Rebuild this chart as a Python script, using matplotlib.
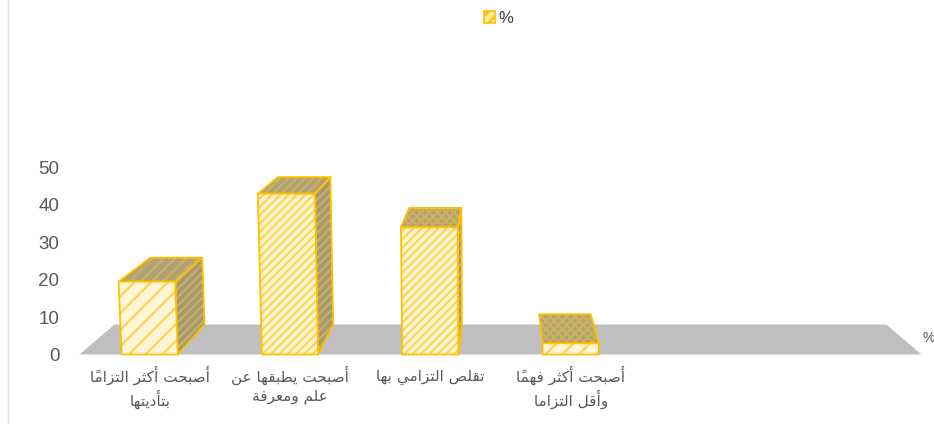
# Perspective column chart with Arabic labels, drawn on a plain 2D axes.
import matplotlib
matplotlib.use("Agg")
import matplotlib.pyplot as plt
from matplotlib.patches import Polygon, Patch

# ------------------------------------------------------------
# Data
# ------------------------------------------------------------
categories = [
    ["أصبحت أكثر التزاماً", "بتأديتها"],
    ["أصبحت يطبقها عن", "علم ومعرفة"],
    ["تقلص التزامي بها"],
    ["أصبحت أكثر فهماً", "وأقل التزاما"],
]
values = [19.5, 43, 34, 3]
y_ticks = [0, 10, 20, 30, 40, 50]
series_name = "%"
n_slots = 6  # the floor has room for two more, empty, categories

# ------------------------------------------------------------
# Style
# ------------------------------------------------------------
GOLD = "#FFC000"
TEXT = "#595959"
FLOOR = "#BFBFBF"
FRONT = "#FFF6D8"
SIDE = "#A39877"
TOP = "#AFA27A"
SHADE_HATCH = "#CDB05A"
BAR_WIDTH = 0.4
FRONT_HATCH = ["//", "////", "////", "//"]
TOP_HATCH = ["///", "////", "xxxx", "xxxx"]

# perspective: back plane shrinks towards a vanishing point
VANISH_X = 2.5        # in category units
VANISH_Y = 96.5       # in value units
BACK_SCALE = 0.917
LEAN = 0.0004         # columns spread slightly with height

# ------------------------------------------------------------
# Minimal Arabic shaping (matplotlib has no bidi or joining)
# ------------------------------------------------------------
FORMS = {
    "ا": "\ufe8d\ufe8e", "أ": "\ufe83\ufe84", "د": "\ufea9\ufeaa", "ر": "\ufead\ufeae",
    "ز": "\ufeaf\ufeb0", "و": "\ufeed\ufeee", "ة": "\ufe93\ufe94",
    "ب": "\ufe8f\ufe90\ufe91\ufe92", "ت": "\ufe95\ufe96\ufe97\ufe98",
    "ث": "\ufe99\ufe9a\ufe9b\ufe9c", "ح": "\ufea1\ufea2\ufea3\ufea4",
    "ص": "\ufeb9\ufeba\ufebb\ufebc", "ط": "\ufec1\ufec2\ufec3\ufec4",
    "ع": "\ufec9\ufeca\ufecb\ufecc", "ف": "\ufed1\ufed2\ufed3\ufed4",
    "ق": "\ufed5\ufed6\ufed7\ufed8", "ك": "\ufed9\ufeda\ufedb\ufedc",
    "ل": "\ufedd\ufede\ufedf\ufee0", "م": "\ufee1\ufee2\ufee3\ufee4",
    "ن": "\ufee5\ufee6\ufee7\ufee8", "ه": "\ufee9\ufeea\ufeeb\ufeec",
    "ي": "\ufef1\ufef2\ufef3\ufef4",
}
MARKS = "\u064b\u0651"


def shape(line):
    # split into clusters of letter + its marks
    clusters = []
    for ch in line:
        if ch in MARKS and clusters:
            clusters[-1][1] += ch
        else:
            clusters.append([ch, ""])

    out = []
    for i, (ch, marks) in enumerate(clusters):
        forms = FORMS.get(ch)
        if forms is None:
            out.append(ch + marks)
            continue
        prev = clusters[i - 1][0] if i > 0 else " "
        nxt = clusters[i + 1][0] if i + 1 < len(clusters) else " "
        joins_prev = prev in FORMS and len(FORMS[prev]) == 4
        joins_next = nxt in FORMS and len(forms) == 4
        if joins_prev and joins_next:
            glyph = forms[3]
        elif joins_next:
            glyph = forms[2]
        elif joins_prev:
            glyph = forms[1]
        else:
            glyph = forms[0]
        out.append(glyph + marks)
    return "".join(reversed(out))


# ------------------------------------------------------------
# Projection of a point of a column into the axes
# ------------------------------------------------------------
def project(x, v, back=False):
    x = VANISH_X + (x - VANISH_X) * (1 + LEAN * v)
    if back:
        x = VANISH_X + (x - VANISH_X) * BACK_SCALE
        v = VANISH_Y + (v - VANISH_Y) * BACK_SCALE
    return x, v


def face(ax, points, facecolor, hatch, hatch_color, zorder):
    # the hatch takes the edge colour, so the outline is a second polygon
    ax.add_patch(Polygon(points, closed=True, facecolor=facecolor, edgecolor=hatch_color,
                         hatch=hatch, linewidth=0, clip_on=False, zorder=zorder))
    ax.add_patch(Polygon(points, closed=True, fill=False, edgecolor=GOLD, linewidth=1.3,
                         joinstyle="round", clip_on=False, zorder=zorder))


# ------------------------------------------------------------
# Figure
# ------------------------------------------------------------
plt.rcParams["hatch.linewidth"] = 1.6
W, H = 934, 424
fig = plt.figure(figsize=(W / 100, H / 100), dpi=100, facecolor="white")
ax = fig.add_axes([79.5 / W, 1 - 354.5 / H, 842 / W, 187 / H])
ax.set_xlim(-0.5, n_slots - 0.5)
ax.set_ylim(0, 50)
for s in ax.spines.values():
    s.set_visible(False)
ax.patch.set_visible(False)

# floor
ax.add_patch(Polygon([project(-0.5, 0), project(n_slots - 0.5, 0),
                      project(n_slots - 0.5, 0, True), project(-0.5, 0, True)],
                     closed=True, facecolor=FLOOR, edgecolor="none", clip_on=False, zorder=1))

# columns, one polygon per visible face
for i, v in enumerate(values):
    x0, x1 = i - BAR_WIDTH / 2, i + BAR_WIDTH / 2
    if i < VANISH_X:
        face(ax, [project(x1, 0), project(x1, v), project(x1, v, True), project(x1, 0, True)],
             SIDE, "////", SHADE_HATCH, 2 + i)
    face(ax, [project(x0, v), project(x1, v), project(x1, v, True), project(x0, v, True)],
         TOP, TOP_HATCH[i], SHADE_HATCH, 2 + i)
    face(ax, [project(x0, 0), project(x1, 0), project(x1, v), project(x0, v)],
         FRONT, FRONT_HATCH[i], "#FFD34D", 2.5 + i)

# axes text
ax.set_yticks(y_ticks)
ax.set_yticklabels([str(t) for t in y_ticks], fontsize=13.5, color=TEXT, family="Liberation Sans")
ax.set_xticks(range(len(categories)))
ax.set_xticklabels(["\n".join(shape(l) for l in c) for c in categories],
                   fontsize=11, color=TEXT, family="DejaVu Sans", linespacing=1.3)
ax.tick_params(axis="y", length=0, pad=14.5)
ax.tick_params(axis="x", length=0, pad=8)
# this label has no tall marks on its line, so its top sits lower in the original
ax.xaxis.get_major_ticks()[2].set_pad(11)

# series axis name at the right end of the floor
fig.text(922.5 / W, 1 - 338 / H, series_name, fontsize=10, color=TEXT, va="center",
         family="Liberation Sans")

# legend
handle = Patch(facecolor="#FFE9A0", edgecolor=GOLD, hatch="///", linewidth=1.2)
leg = fig.legend([handle], [series_name], loc="center", bbox_to_anchor=(498.5 / W, 1 - 18.5 / H),
                 frameon=False, handlelength=0.7, handleheight=0.7, handletextpad=0.2,
                 borderpad=0, prop={"family": "Liberation Sans", "size": 12})
leg.get_texts()[0].set_color("#404040")

# faint frame line of the original chart area
fig.add_artist(plt.Line2D([8 / W, 8 / W], [0, 1], color="#E0E0E0", linewidth=1))

fig.savefig("out.png", dpi=100)
